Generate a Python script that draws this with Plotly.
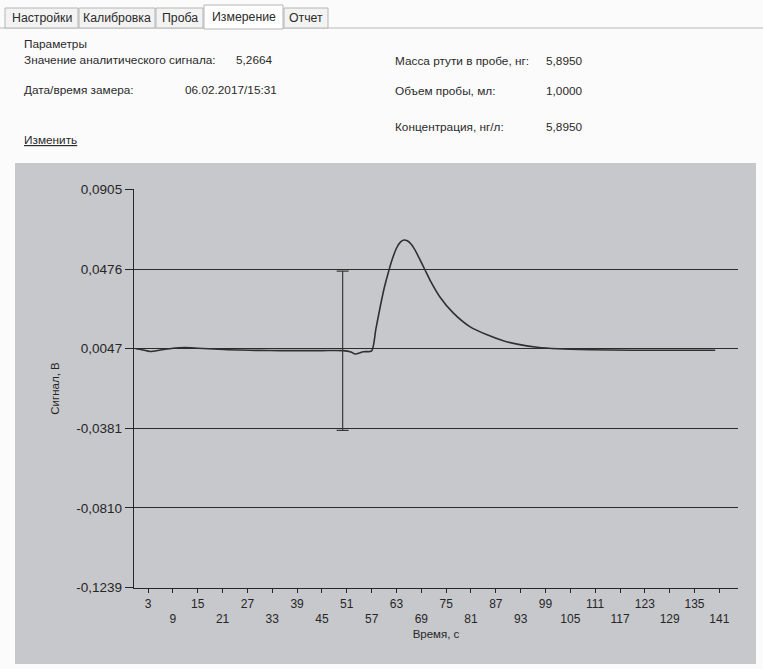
import plotly.graph_objects as go

# ---- data ----
time_s = [0, 1.5, 3.5, 6, 9, 12, 15, 20, 25, 30, 35, 40, 45, 50, 52, 53, 55, 57,
          58, 59, 60, 61, 62, 63, 64, 64.8, 65.6, 66.4, 67.5, 68.7, 69.9, 71.1, 73.5,
          76.7, 80.8, 84.9, 88.8, 92.8, 97, 102, 110, 120, 130, 140]
signal_v = [0.0047, 0.0042, 0.0032, 0.0040, 0.0050, 0.0053, 0.0050, 0.0044, 0.0040,
            0.0038, 0.0037, 0.0037, 0.0037, 0.0037, 0.0030, 0.0019, 0.0031, 0.0036,
            0.0150, 0.0265, 0.0370, 0.0455, 0.0530, 0.0588, 0.0622, 0.0632, 0.0628, 0.0614,
            0.0578, 0.0525, 0.0471, 0.0417, 0.0326, 0.0240, 0.0165, 0.0122, 0.0090, 0.0069,
            0.0055, 0.0047, 0.0042, 0.0039, 0.0039, 0.0039]

marker_t = [50]
marker_top = [0.0465]
marker_bottom = [-0.0392]

y_ticks = [0.0905, 0.0476, 0.0047, -0.0381, -0.0810, -0.1239]
y_labels = ["0,0905", "0,0476", "0,0047", "-0,0381", "-0,0810", "-0,1239"]
x_ticks = list(range(3, 142, 6))
x_labels = [str(v) if i % 2 == 0 else "<br>" + str(v) for i, v in enumerate(x_ticks)]

tabs = ["Настройки", "Калибровка", "Проба", "Измерение", "Отчет"]
tab_edges = [5, 79, 156, 204, 284, 329]
selected_tab = 3

params_left = [("Значение аналитического сигнала:", "5,2664"),
               ("Дата/время замера:", "06.02.2017/15:31")]
params_right = [("Масса ртути в пробе, нг:", "5,8950"),
                ("Объем пробы, мл:", "1,0000"),
                ("Концентрация, нг/л:", "5,8950")]

# ---- layout geometry (pixels) ----
W, H = 763, 669
L, R, T, B = 134, 738, 189, 588


def px(x):
    return (x - L) / (R - L)


def py(y):
    return (B - y) / (B - T)


UI_FONT = "Liberation Sans"
ui_col = "#2a2a2a"
panel_col = "#c7c8cc"
dark = "#262626"

fig = go.Figure()

fig.add_trace(go.Scatter(
    x=time_s, y=signal_v, mode="lines",
    line=dict(color="#303030", width=1.6, shape="spline", smoothing=0.7),
    hoverinfo="skip", showlegend=False))

mid = [(a + b) / 2 for a, b in zip(marker_top, marker_bottom)]
half = [(a - b) / 2 for a, b in zip(marker_top, marker_bottom)]
fig.add_trace(go.Scatter(
    x=marker_t, y=mid, mode="markers",
    marker=dict(size=1, color="rgba(0,0,0,0)"),
    error_y=dict(type="data", array=half, symmetric=True, color="#3a3a3a",
                 thickness=1.2, width=6),
    hoverinfo="skip", showlegend=False))

shapes = []
annotations = []

# grey chart panel
shapes.append(dict(type="rect", xref="paper", yref="paper",
                   x0=px(15), x1=px(756), y0=py(664), y1=py(163),
                   fillcolor=panel_col, line=dict(width=0), layer="below"))

# tab strip baseline
shapes.append(dict(type="line", xref="paper", yref="paper",
                   x0=px(0), x1=px(763), y0=py(28), y1=py(28),
                   line=dict(color="#b9b9b9", width=1), layer="below"))
for i, name in enumerate(tabs):
    x0, x1 = tab_edges[i], tab_edges[i + 1] - 1
    top = 5 if i == selected_tab else 8
    bot = 29 if i == selected_tab else 28
    shapes.append(dict(type="rect", xref="paper", yref="paper",
                       x0=px(x0), x1=px(x1), y0=py(bot), y1=py(top),
                       fillcolor="#ffffff" if i == selected_tab else "#f3f3f3",
                       line=dict(color="#b5b5b5", width=1), layer="below"))
    annotations.append(dict(xref="paper", yref="paper",
                            x=px((x0 + x1) / 2), y=py((top + 28) / 2 + 0.5),
                            text=name, showarrow=False, xanchor="center", yanchor="middle",
                            font=dict(family=UI_FONT, size=12.3, color=ui_col)))


def label(x, y, text, size=11.8):
    annotations.append(dict(xref="paper", yref="paper", x=px(x), y=py(y), text=text,
                            showarrow=False, xanchor="left", yanchor="middle",
                            font=dict(family=UI_FONT, size=size, color=ui_col)))


label(22, 44, "Параметры")
label(22, 60, params_left[0][0])
label(234, 60, params_left[0][1])
label(22, 90, params_left[1][0])
label(183, 90, params_left[1][1])
label(22, 140, "<u>Изменить</u>")
for (k, v), y in zip(params_right, [61, 91, 127]):
    label(393, y, k)
    label(544, y, v)

fig.update_layout(
    width=W, height=H,
    margin=dict(l=L, r=W - R, t=T, b=H - B, pad=0),
    paper_bgcolor="#fbfbfb",
    plot_bgcolor="rgba(0,0,0,0)",
    shapes=shapes, annotations=annotations,
    font=dict(family=UI_FONT, color=dark),
    xaxis=dict(range=[-0.4, 145.5], tickvals=x_ticks, ticktext=x_labels,
               tickangle=0,
               showgrid=False, zeroline=False, showline=True, linecolor=dark, linewidth=1.3,
               ticks="outside", ticklen=4, tickcolor=dark, tickwidth=1.2,
               tickfont=dict(family=UI_FONT, size=12, color=dark),
               title=dict(text="Время, с", font=dict(family=UI_FONT, size=11.5, color=dark),
                          standoff=4)),
    yaxis=dict(range=[-0.1241, 0.0907], tickvals=y_ticks, ticktext=y_labels,
               showgrid=True, gridcolor="#2c2c2c", gridwidth=1.3,
               zeroline=False, showline=True, linecolor=dark, linewidth=1.3,
               ticks="outside", ticklen=8, tickcolor=dark, tickwidth=1.2,
               tickfont=dict(family=UI_FONT, size=13.5, color=dark),
               title=dict(text="Сигнал, В", font=dict(family=UI_FONT, size=11.5, color=dark),
                          standoff=14)),
)

fig.write_html("out.html", config={"displayModeBar": False},
               post_script="document.body.style.margin='0';document.body.style.overflow='hidden';")
